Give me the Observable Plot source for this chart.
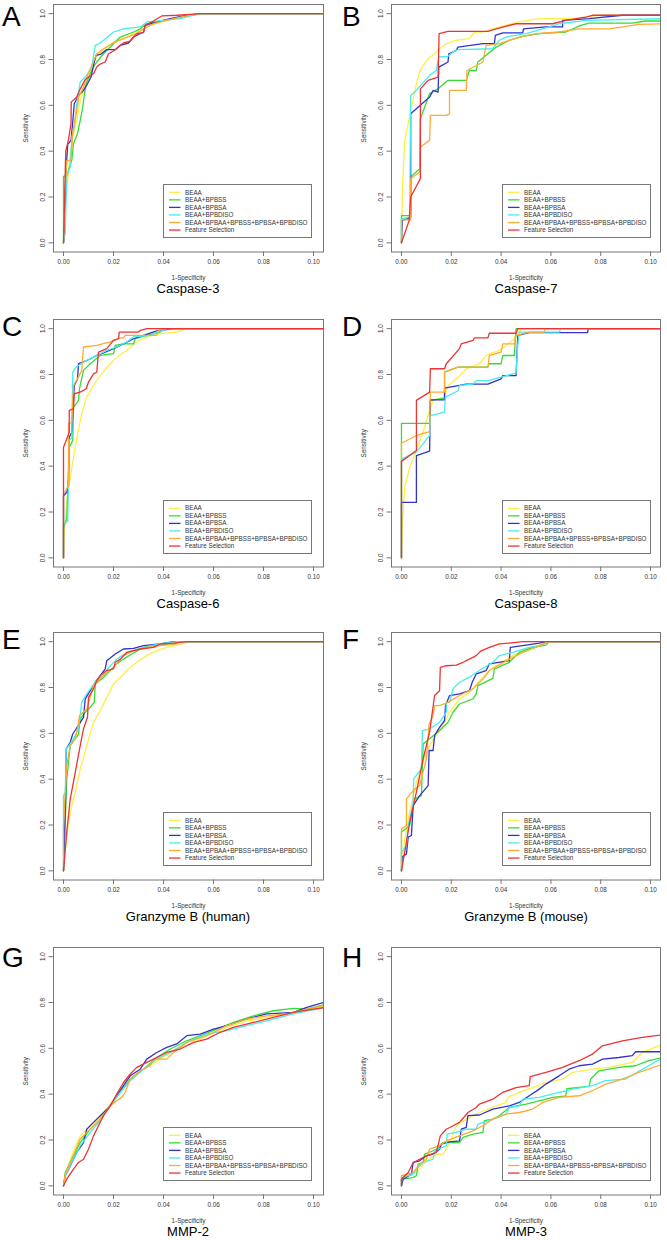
<!DOCTYPE html>
<html><head><meta charset="utf-8">
<script src="https://cdn.jsdelivr.net/npm/d3@7"></script>
<script src="https://cdn.jsdelivr.net/npm/@observablehq/plot@0.6"></script>
<style>
body{margin:0;background:#fff;}
#root{position:relative;width:667px;height:1240px;overflow:hidden;background:#fff;font-family:"Liberation Sans",Arial,sans-serif;}
.panel{position:absolute;}
.letter{position:absolute;font-size:28px;line-height:1;color:#000;}
.title{position:absolute;font-size:13px;line-height:1;color:#000;transform:translate(-50%,-50%);white-space:nowrap;}
.legend{position:absolute;border:1px solid #777;background:#fff;box-sizing:border-box;}
.legend svg{position:absolute;left:0;top:0;}
.legend .lb{position:absolute;left:21px;font-size:6.3px;line-height:1;color:#333;white-space:nowrap;transform:translateY(-50%);}
</style>
</head><body><div id="root"></div>
<script>
// ---------- series names, colours, panel titles, ticks ----------
const seriesNames = ["BEAA","BEAA+BPBSS","BEAA+BPBSA","BEAA+BPBDISO","BEAA+BPBAA+BPBSS+BPBSA+BPBDISO","Feature Selection"];
const seriesColors = ["#ffee44","#33dd33","#3333cc","#44eeee","#ffaa33","#ee3333"];
const panelLetters = ["A","B","C","D","E","F","G","H"];
const panelTitles = ["Caspase-3","Caspase-7","Caspase-6","Caspase-8","Granzyme B (human)","Granzyme B (mouse)","MMP-2","MMP-3"];
const xTicks = [0,0.02,0.04,0.06,0.08,0.10];
const yTicks = [0,0.2,0.4,0.6,0.8,1.0];

// ---------- A: Caspase-3 ----------
const A_BEAA = [[0,0],[0.0007,0.185],[0.0013,0.229],[0.0027,0.389],[0.004,0.476],[0.0053,0.534],[0.0067,0.622],[0.0083,0.68],[0.01,0.723],[0.012,0.789],[0.014,0.825],[0.0173,0.854],[0.0213,0.884],[0.0253,0.898],[0.0307,0.927],[0.0347,0.949],[0.04,0.968],[0.0467,0.985],[0.0547,1],[0.105,1]];
const A_BPBSS = [[0,0],[0,0.29],[0.0013,0.294],[0.002,0.316],[0.0033,0.36],[0.004,0.432],[0.0056,0.476],[0.0067,0.534],[0.0077,0.592],[0.0083,0.643],[0.0091,0.694],[0.0107,0.738],[0.012,0.767],[0.0133,0.789],[0.016,0.825],[0.02,0.869],[0.0227,0.898],[0.028,0.92],[0.0307,0.934],[0.0333,0.956],[0.0387,0.967],[0.044,0.978],[0.052,0.996],[0.0547,1],[0.105,1]];
const A_BPBSA = [[0,0],[0.0004,0.04],[0.0009,0.3],[0.0017,0.43],[0.003,0.447],[0.0037,0.527],[0.0043,0.607],[0.006,0.643],[0.008,0.665],[0.0096,0.694],[0.011,0.723],[0.012,0.774],[0.013,0.818],[0.0147,0.822],[0.0173,0.843],[0.0207,0.843],[0.0227,0.862],[0.026,0.872],[0.028,0.898],[0.032,0.92],[0.0327,0.949],[0.0373,0.964],[0.0427,0.978],[0.049,0.993],[0.0547,1],[0.105,1]];
const A_BPBDISO = [[0,0],[0.0007,0.05],[0.0009,0.127],[0.0013,0.3],[0.0027,0.33],[0.0033,0.461],[0.0043,0.505],[0.0053,0.607],[0.0067,0.702],[0.0093,0.731],[0.0113,0.767],[0.0127,0.862],[0.0147,0.872],[0.02,0.92],[0.024,0.934],[0.0307,0.942],[0.0333,0.964],[0.04,0.971],[0.0467,0.978],[0.0533,0.997],[0.056,1],[0.105,1]];
const A_ALL = [[0,0],[0.0004,0.185],[0.0013,0.36],[0.003,0.36],[0.0037,0.483],[0.005,0.556],[0.0061,0.636],[0.008,0.68],[0.0096,0.731],[0.0113,0.774],[0.0133,0.825],[0.016,0.847],[0.0193,0.869],[0.024,0.891],[0.0293,0.913],[0.032,0.934],[0.036,0.956],[0.0413,0.971],[0.048,0.988],[0.0547,1],[0.105,1]];
const A_FS = [[0,0],[0.0009,0.4],[0.002,0.45],[0.003,0.52],[0.0031,0.614],[0.0053,0.636],[0.0067,0.672],[0.0087,0.713],[0.012,0.738],[0.0133,0.767],[0.0147,0.78],[0.0167,0.789],[0.018,0.825],[0.02,0.837],[0.024,0.872],[0.0267,0.88],[0.0293,0.913],[0.032,0.917],[0.0327,0.949],[0.036,0.968],[0.0393,0.99],[0.0453,0.993],[0.049,0.996],[0.0547,1],[0.105,1]];

// ---------- B: Caspase-7 ----------
const B_BEAA = [[0,0],[0.0002,0.1],[0.0004,0.243],[0.0013,0.447],[0.0027,0.52],[0.004,0.592],[0.006,0.694],[0.0073,0.745],[0.0087,0.774],[0.0107,0.803],[0.0133,0.825],[0.0153,0.847],[0.018,0.869],[0.022,0.884],[0.0273,0.891],[0.0293,0.92],[0.0327,0.92],[0.0393,0.942],[0.0473,0.964],[0.0553,0.978],[0.0687,0.978],[0.0793,0.993],[0.105,0.993]];
const B_BPBSS = [[0,0],[0,0.119],[0.0037,0.119],[0.0037,0.287],[0.0073,0.323],[0.0076,0.541],[0.0113,0.651],[0.0147,0.672],[0.0187,0.709],[0.026,0.709],[0.0273,0.752],[0.03,0.752],[0.0307,0.789],[0.0347,0.825],[0.038,0.854],[0.0433,0.884],[0.0487,0.901],[0.0553,0.913],[0.066,0.92],[0.072,0.949],[0.0753,0.959],[0.0927,0.959],[0.098,0.968],[0.105,0.968]];
const B_BPBSA = [[0,0],[0.0003,0.098],[0.0037,0.11],[0.0037,0.563],[0.0113,0.636],[0.0127,0.665],[0.0147,0.658],[0.015,0.767],[0.0187,0.789],[0.019,0.825],[0.022,0.84],[0.0227,0.854],[0.0327,0.869],[0.0373,0.869],[0.0377,0.905],[0.0407,0.916],[0.0487,0.916],[0.049,0.934],[0.058,0.942],[0.0647,0.942],[0.0647,0.971],[0.0753,0.978],[0.0887,0.993],[0.105,0.993]];
const B_BPBDISO = [[0,0],[0,0.105],[0.0033,0.112],[0.0037,0.643],[0.006,0.665],[0.0113,0.731],[0.014,0.752],[0.015,0.811],[0.0187,0.814],[0.0207,0.833],[0.0227,0.843],[0.0367,0.847],[0.0393,0.884],[0.042,0.898],[0.05,0.913],[0.0593,0.942],[0.0633,0.956],[0.074,0.971],[0.105,0.978]];
const B_ALL = [[0,0],[0,0.1],[0.0037,0.1],[0.0037,0.28],[0.0073,0.309],[0.0076,0.418],[0.0113,0.447],[0.0116,0.556],[0.018,0.556],[0.0193,0.563],[0.0193,0.665],[0.026,0.665],[0.0263,0.752],[0.0327,0.789],[0.034,0.862],[0.0393,0.869],[0.0473,0.898],[0.054,0.913],[0.0633,0.92],[0.0713,0.934],[0.0833,0.934],[0.09,0.945],[0.0953,0.953],[0.105,0.956]];
const B_FS = [[0,0],[0.0031,0.0975],[0.0037,0.2],[0.0076,0.28],[0.0076,0.672],[0.0107,0.709],[0.0147,0.723],[0.0151,0.913],[0.0187,0.923],[0.0347,0.923],[0.038,0.934],[0.046,0.956],[0.0607,0.956],[0.066,0.971],[0.074,0.985],[0.0767,0.993],[0.105,0.993]];

// ---------- C: Caspase-6 ----------
const C_BEAA = [[0,0],[0.0003,0.104],[0.0013,0.249],[0.0027,0.351],[0.004,0.439],[0.0056,0.541],[0.0073,0.628],[0.0093,0.701],[0.012,0.752],[0.0147,0.796],[0.0187,0.847],[0.0213,0.876],[0.0253,0.905],[0.0293,0.942],[0.0333,0.964],[0.0387,0.978],[0.0453,0.985],[0.0493,1],[0.105,1]];
const C_BPBSS = [[0,0],[0,0.133],[0.0013,0.169],[0.0023,0.483],[0.0037,0.512],[0.004,0.657],[0.006,0.687],[0.0064,0.738],[0.008,0.818],[0.0107,0.847],[0.0147,0.883],[0.02,0.891],[0.0207,0.927],[0.024,0.934],[0.028,0.934],[0.0287,0.956],[0.0333,0.971],[0.0387,0.985],[0.04,1],[0.105,1]];
const C_BPBSA = [[0,0],[0,0.271],[0.0013,0.286],[0.002,0.315],[0.0023,0.526],[0.0033,0.548],[0.0043,0.752],[0.0056,0.781],[0.006,0.847],[0.0093,0.861],[0.0133,0.883],[0.016,0.894],[0.02,0.913],[0.024,0.934],[0.028,0.956],[0.032,0.971],[0.0373,0.99],[0.042,0.997],[0.044,1],[0.105,1]];
const C_BPBDISO = [[0,0],[0,0.147],[0.0017,0.162],[0.0023,0.512],[0.0033,0.526],[0.0037,0.81],[0.005,0.832],[0.008,0.854],[0.012,0.876],[0.0173,0.905],[0.0213,0.92],[0.0253,0.942],[0.028,0.964],[0.0347,0.971],[0.0373,0.985],[0.04,0.993],[0.0413,1],[0.105,1]];
const C_ALL = [[0,0],[0,0.28],[0.0007,0.29],[0.002,0.315],[0.002,0.585],[0.0033,0.592],[0.004,0.752],[0.0056,0.781],[0.0073,0.818],[0.008,0.92],[0.0133,0.927],[0.0187,0.942],[0.0227,0.96],[0.024,0.96],[0.0247,0.971],[0.0373,0.971],[0.038,0.993],[0.04,1],[0.105,1]];
const C_FS = [[0,0],[0,0.483],[0.0013,0.519],[0.0023,0.548],[0.0023,0.643],[0.004,0.65],[0.0043,0.716],[0.0067,0.723],[0.0091,0.738],[0.01,0.767],[0.012,0.803],[0.0133,0.81],[0.014,0.898],[0.0173,0.913],[0.02,0.949],[0.022,0.956],[0.0223,0.985],[0.03,0.985],[0.0307,0.993],[0.0333,1],[0.105,1]];

// ---------- D: Caspase-8 ----------
const D_BEAA = [[0,0],[0.0003,0.133],[0.0013,0.308],[0.0033,0.395],[0.006,0.468],[0.0093,0.57],[0.0113,0.643],[0.0127,0.687],[0.0173,0.701],[0.0187,0.752],[0.0227,0.787],[0.026,0.825],[0.0313,0.847],[0.034,0.883],[0.0393,0.905],[0.0447,0.949],[0.0467,0.985],[0.0487,1],[0.105,1]];
const D_BPBSS = [[0,0],[0,0.587],[0.0113,0.587],[0.0116,0.687],[0.0173,0.697],[0.0173,0.81],[0.0227,0.832],[0.0347,0.832],[0.0351,0.847],[0.04,0.847],[0.0407,0.883],[0.0453,0.883],[0.046,1],[0.105,1]];
const D_BPBSA = [[0,0],[0,0.242],[0.006,0.242],[0.006,0.446],[0.0113,0.466],[0.0116,0.689],[0.0173,0.689],[0.0173,0.741],[0.026,0.758],[0.0347,0.758],[0.04,0.781],[0.0407,0.795],[0.046,0.795],[0.0467,0.971],[0.0513,0.983],[0.0747,0.983],[0.075,1],[0.105,1]];
const D_BPBDISO = [[0,0],[0,0.431],[0.006,0.461],[0.0113,0.534],[0.0116,0.621],[0.0173,0.636],[0.0176,0.701],[0.0227,0.729],[0.0233,0.752],[0.0287,0.758],[0.03,0.773],[0.0347,0.773],[0.046,0.806],[0.0467,0.93],[0.0473,0.985],[0.0633,0.985],[0.064,1],[0.105,1]];
const D_ALL = [[0,0],[0,0.5],[0.006,0.534],[0.0113,0.551],[0.0116,0.723],[0.0173,0.723],[0.0173,0.81],[0.0227,0.832],[0.0347,0.832],[0.0353,0.883],[0.04,0.898],[0.0407,0.934],[0.0453,0.934],[0.046,0.971],[0.0513,0.985],[0.0573,0.985],[0.0577,1],[0.105,1]];
const D_FS = [[0,0],[0,0.421],[0.006,0.468],[0.006,0.687],[0.0113,0.723],[0.0116,0.825],[0.0173,0.825],[0.018,0.847],[0.0233,0.913],[0.024,0.934],[0.0287,0.949],[0.0293,0.96],[0.0347,0.96],[0.0353,0.98],[0.046,0.98],[0.0467,1],[0.105,1]];

// ---------- E: Granzyme B (human) ----------
const E_BEAA = [[0,0],[0.0013,0.154],[0.0027,0.256],[0.0047,0.343],[0.0067,0.445],[0.0093,0.547],[0.012,0.648],[0.0147,0.699],[0.0173,0.757],[0.02,0.815],[0.0227,0.844],[0.026,0.881],[0.0293,0.91],[0.0333,0.939],[0.0373,0.961],[0.0413,0.975],[0.0453,0.985],[0.0507,1],[0.105,1]];
const E_BPBSS = [[0,0],[0.0013,0.401],[0.0027,0.547],[0.0047,0.576],[0.006,0.597],[0.0067,0.663],[0.0087,0.692],[0.0107,0.714],[0.0123,0.735],[0.0127,0.815],[0.016,0.844],[0.0187,0.874],[0.0213,0.903],[0.024,0.924],[0.0273,0.946],[0.032,0.975],[0.0373,0.985],[0.044,0.99],[0.0467,1],[0.105,1]];
const E_BPBSA = [[0,0],[0.0008,0.3],[0.0011,0.532],[0.0027,0.561],[0.0037,0.597],[0.005,0.619],[0.0067,0.648],[0.008,0.67],[0.0087,0.75],[0.0107,0.786],[0.0127,0.823],[0.0147,0.852],[0.0167,0.881],[0.0173,0.917],[0.0207,0.946],[0.024,0.968],[0.028,0.971],[0.032,0.983],[0.0387,0.99],[0.044,1],[0.105,1]];
const E_BPBDISO = [[0,0],[0,0.328],[0.0007,0.343],[0.0011,0.532],[0.0027,0.554],[0.0047,0.59],[0.006,0.619],[0.0073,0.735],[0.0093,0.772],[0.0127,0.823],[0.016,0.859],[0.0187,0.895],[0.0213,0.924],[0.0253,0.953],[0.0307,0.971],[0.036,0.985],[0.0427,0.997],[0.0453,1],[0.105,1]];
const E_ALL = [[0,0],[0,0.198],[0.0013,0.459],[0.0027,0.547],[0.0047,0.576],[0.0056,0.619],[0.0064,0.677],[0.0093,0.706],[0.012,0.808],[0.016,0.852],[0.02,0.888],[0.024,0.939],[0.028,0.961],[0.0333,0.975],[0.0387,0.983],[0.0453,0.99],[0.046,1],[0.105,1]];
const E_FS = [[0,0],[0.0013,0.169],[0.0027,0.314],[0.0047,0.43],[0.0067,0.547],[0.008,0.619],[0.0096,0.67],[0.01,0.757],[0.012,0.794],[0.0133,0.83],[0.0147,0.852],[0.0173,0.874],[0.02,0.881],[0.0207,0.91],[0.0227,0.924],[0.0253,0.953],[0.0307,0.968],[0.036,0.975],[0.0387,0.99],[0.044,0.994],[0.0493,1],[0.105,1]];

// ---------- F: Granzyme B (mouse) ----------
const F_BEAA = [[0,0],[0.0013,0.14],[0.0033,0.256],[0.006,0.387],[0.0087,0.474],[0.0113,0.547],[0.014,0.59],[0.0167,0.634],[0.0193,0.692],[0.0233,0.75],[0.0273,0.779],[0.0313,0.83],[0.0353,0.874],[0.0393,0.903],[0.0447,0.939],[0.05,0.968],[0.0553,0.985],[0.0593,1],[0.105,1]];
const F_BPBSS = [[0,0],[0,0.169],[0.0033,0.198],[0.0053,0.314],[0.008,0.328],[0.0087,0.554],[0.0113,0.576],[0.0153,0.612],[0.0187,0.648],[0.0207,0.692],[0.0233,0.728],[0.0287,0.75],[0.03,0.772],[0.0307,0.808],[0.0367,0.84],[0.0373,0.881],[0.0433,0.91],[0.0473,0.953],[0.0527,0.975],[0.058,0.985],[0.0593,1],[0.105,1]];
const F_BPBSA = [[0,0],[0.0003,0.06],[0.002,0.074],[0.0027,0.147],[0.004,0.154],[0.0047,0.285],[0.0073,0.328],[0.0107,0.372],[0.0111,0.525],[0.0127,0.525],[0.0133,0.59],[0.0153,0.626],[0.0173,0.656],[0.0177,0.721],[0.0193,0.765],[0.0233,0.772],[0.0273,0.786],[0.0284,0.823],[0.03,0.859],[0.034,0.874],[0.0353,0.903],[0.0433,0.917],[0.0437,0.975],[0.05,0.985],[0.0553,0.994],[0.058,1],[0.105,1]];
const F_BPBDISO = [[0,0],[0,0.081],[0.002,0.11],[0.0027,0.198],[0.0047,0.299],[0.0049,0.401],[0.008,0.445],[0.0084,0.612],[0.0113,0.619],[0.0153,0.648],[0.018,0.692],[0.018,0.735],[0.0193,0.735],[0.0207,0.794],[0.0233,0.823],[0.0273,0.845],[0.0313,0.874],[0.0367,0.91],[0.0393,0.939],[0.0447,0.953],[0.0513,0.975],[0.0553,0.983],[0.0593,1],[0.105,1]];
const F_ALL = [[0,0],[0,0.183],[0.002,0.198],[0.002,0.314],[0.0047,0.35],[0.0073,0.372],[0.01,0.488],[0.0111,0.641],[0.0127,0.677],[0.0133,0.721],[0.0153,0.721],[0.0187,0.735],[0.0233,0.765],[0.0287,0.794],[0.0327,0.837],[0.0353,0.874],[0.0393,0.898],[0.0433,0.924],[0.0487,0.953],[0.054,0.975],[0.0593,1],[0.105,1]];
const F_FS = [[0,0],[0.0013,0.081],[0.0033,0.212],[0.006,0.343],[0.0087,0.488],[0.0113,0.605],[0.0133,0.765],[0.0153,0.786],[0.0156,0.888],[0.018,0.895],[0.022,0.898],[0.0247,0.91],[0.0273,0.924],[0.03,0.939],[0.032,0.96],[0.0353,0.975],[0.0393,0.99],[0.0433,0.994],[0.0487,1],[0.105,1]];

// ---------- G: MMP-2 ----------
const G_BEAA = [[0,0],[0.0007,0.05],[0.0033,0.131],[0.0067,0.218],[0.0107,0.262],[0.0147,0.298],[0.0187,0.357],[0.0227,0.415],[0.028,0.48],[0.0333,0.517],[0.0387,0.553],[0.044,0.589],[0.0507,0.619],[0.0573,0.655],[0.0653,0.691],[0.0733,0.72],[0.0813,0.735],[0.092,0.757],[0.105,0.786]];
const G_BPBSS = [[0,0],[0.0007,0.058],[0.0033,0.116],[0.0067,0.189],[0.0107,0.247],[0.0147,0.291],[0.0187,0.349],[0.0227,0.408],[0.0267,0.466],[0.032,0.509],[0.0373,0.56],[0.0427,0.597],[0.0493,0.633],[0.0547,0.655],[0.0613,0.684],[0.068,0.713],[0.076,0.742],[0.084,0.764],[0.092,0.774],[0.0973,0.771],[0.105,0.793]];
const G_BPBSA = [[0,0],[0.0007,0.044],[0.0027,0.087],[0.0053,0.146],[0.008,0.189],[0.0093,0.247],[0.012,0.277],[0.0147,0.306],[0.0187,0.349],[0.0213,0.393],[0.024,0.437],[0.0267,0.48],[0.0307,0.509],[0.0333,0.553],[0.0373,0.582],[0.0413,0.604],[0.0453,0.619],[0.0493,0.655],[0.0547,0.662],[0.06,0.684],[0.0653,0.699],[0.0733,0.728],[0.0813,0.75],[0.092,0.757],[0.0973,0.779],[0.105,0.803]];
const G_BPBDISO = [[0,0],[0.0007,0.044],[0.0033,0.102],[0.0067,0.175],[0.0107,0.233],[0.0147,0.284],[0.0187,0.349],[0.0227,0.408],[0.0267,0.459],[0.032,0.509],[0.0373,0.553],[0.0427,0.582],[0.0493,0.626],[0.0573,0.662],[0.0653,0.677],[0.0733,0.699],[0.0813,0.72],[0.092,0.75],[0.105,0.779]];
const G_ALL = [[0,0],[0.0007,0.05],[0.0033,0.116],[0.0067,0.204],[0.0107,0.247],[0.0147,0.291],[0.0187,0.349],[0.0213,0.371],[0.0233,0.386],[0.0247,0.408],[0.0267,0.466],[0.0307,0.502],[0.0347,0.524],[0.036,0.553],[0.0413,0.553],[0.044,0.582],[0.0493,0.626],[0.0573,0.655],[0.0653,0.699],[0.0733,0.728],[0.0813,0.742],[0.0893,0.75],[0.105,0.789]];
const G_FS = [[0,0],[0.0013,0.029],[0.004,0.073],[0.006,0.102],[0.008,0.116],[0.01,0.16],[0.012,0.218],[0.014,0.262],[0.016,0.306],[0.0187,0.349],[0.0213,0.4],[0.024,0.451],[0.0267,0.488],[0.0293,0.517],[0.0333,0.539],[0.0373,0.56],[0.0413,0.582],[0.0467,0.597],[0.052,0.626],[0.0573,0.64],[0.0627,0.67],[0.068,0.691],[0.076,0.713],[0.084,0.735],[0.092,0.757],[0.1,0.771],[0.105,0.779]];

// ---------- H: MMP-3 ----------
const H_BEAA = [[0,0],[0.0007,0.036],[0.0047,0.051],[0.0073,0.073],[0.01,0.109],[0.014,0.138],[0.0167,0.138],[0.0187,0.175],[0.02,0.204],[0.022,0.262],[0.026,0.291],[0.0313,0.32],[0.038,0.349],[0.042,0.364],[0.0427,0.386],[0.0473,0.408],[0.0527,0.429],[0.058,0.451],[0.0647,0.466],[0.0687,0.495],[0.0767,0.509],[0.0833,0.517],[0.0927,0.539],[0.0967,0.582],[0.105,0.619]];
const H_BPBSS = [[0,0],[0,0.029],[0.0047,0.036],[0.006,0.044],[0.0067,0.095],[0.0087,0.102],[0.0093,0.138],[0.0127,0.153],[0.0153,0.167],[0.0167,0.189],[0.0233,0.189],[0.0247,0.211],[0.0287,0.226],[0.0327,0.233],[0.0333,0.284],[0.0367,0.291],[0.0393,0.306],[0.0433,0.342],[0.05,0.357],[0.0553,0.371],[0.0607,0.386],[0.066,0.393],[0.0664,0.424],[0.0713,0.429],[0.0753,0.434],[0.076,0.466],[0.0793,0.502],[0.0873,0.517],[0.094,0.524],[0.0993,0.546],[0.105,0.56]];
const H_BPBSA = [[0,0],[0.0007,0.029],[0.004,0.051],[0.0047,0.102],[0.0073,0.109],[0.01,0.131],[0.0127,0.138],[0.0153,0.16],[0.016,0.182],[0.0193,0.192],[0.0233,0.196],[0.024,0.247],[0.026,0.255],[0.0267,0.306],[0.0313,0.309],[0.0367,0.335],[0.0433,0.349],[0.0473,0.364],[0.0513,0.393],[0.0553,0.422],[0.058,0.444],[0.0633,0.48],[0.0673,0.509],[0.0713,0.524],[0.0767,0.531],[0.0807,0.553],[0.0873,0.56],[0.0927,0.568],[0.094,0.585],[0.105,0.585]];
const H_BPBDISO = [[0,0],[0,0.036],[0.0047,0.051],[0.006,0.073],[0.0087,0.102],[0.0127,0.116],[0.0133,0.153],[0.018,0.175],[0.0183,0.226],[0.022,0.233],[0.026,0.247],[0.03,0.247],[0.0307,0.269],[0.0367,0.291],[0.042,0.313],[0.0433,0.342],[0.0473,0.349],[0.0487,0.378],[0.0553,0.386],[0.0633,0.408],[0.0687,0.422],[0.0767,0.437],[0.082,0.459],[0.09,0.466],[0.0967,0.509],[0.105,0.56]];
const H_ALL = [[0,0],[0,0.044],[0.0047,0.058],[0.0073,0.095],[0.01,0.116],[0.0113,0.16],[0.0153,0.175],[0.018,0.196],[0.0233,0.218],[0.0287,0.24],[0.0327,0.262],[0.0367,0.291],[0.042,0.313],[0.0473,0.32],[0.0527,0.335],[0.0567,0.364],[0.0633,0.386],[0.0713,0.393],[0.0767,0.415],[0.082,0.444],[0.0887,0.466],[0.0953,0.495],[0.105,0.531]];
const H_FS = [[0,0],[0,0.029],[0.0027,0.058],[0.0047,0.102],[0.01,0.131],[0.014,0.146],[0.0156,0.218],[0.018,0.247],[0.0207,0.262],[0.0233,0.277],[0.0267,0.32],[0.03,0.342],[0.0313,0.357],[0.0367,0.378],[0.0407,0.408],[0.046,0.429],[0.0513,0.437],[0.0517,0.477],[0.058,0.495],[0.0647,0.517],[0.0713,0.546],[0.0767,0.575],[0.0807,0.611],[0.0887,0.633],[0.0967,0.648],[0.105,0.659]];

const panelSeries = [
  [A_BEAA,A_BPBSS,A_BPBSA,A_BPBDISO,A_ALL,A_FS],
  [B_BEAA,B_BPBSS,B_BPBSA,B_BPBDISO,B_ALL,B_FS],
  [C_BEAA,C_BPBSS,C_BPBSA,C_BPBDISO,C_ALL,C_FS],
  [D_BEAA,D_BPBSS,D_BPBSA,D_BPBDISO,D_ALL,D_FS],
  [E_BEAA,E_BPBSS,E_BPBSA,E_BPBDISO,E_ALL,E_FS],
  [F_BEAA,F_BPBSS,F_BPBSA,F_BPBDISO,F_ALL,F_FS],
  [G_BEAA,G_BPBSS,G_BPBSA,G_BPBDISO,G_ALL,G_FS],
  [H_BEAA,H_BPBSS,H_BPBSA,H_BPBDISO,H_ALL,H_FS]
];

// ---------- layout ----------
const root = document.getElementById("root");
const frameTop = [4, 319, 632, 947];
const FH = 247.5;
const cols = [
  {left: 0, width: 333, mL: 53, mR: 10, letterX: 2, titleX: 188, legendX: 163},
  {left: 333, width: 334, mL: 58, mR: 7, letterX: 342, titleX: 526, legendX: 502}
];
const letterCapTop = [7, 316.5, 630, 948];
const legendTop = [184.3, 500, 812.3, 1127.3];
const MT = 4, MB = 34;
const SVGNS = "http://www.w3.org/2000/svg";

panelSeries.forEach((series, i) => {
  const c = cols[i % 2], r = Math.floor(i / 2);
  const frameBottom = frameTop[r] + FH;
  const data = series.flatMap((pts, s) => pts.map(([x, y]) => ({x, y, s: seriesNames[s]})));
  const svg = Plot.plot({
    width: c.width,
    height: MT + FH + MB,
    marginLeft: c.mL, marginRight: c.mR, marginTop: MT, marginBottom: MB,
    style: {fontFamily: "'Liberation Sans', Arial, sans-serif", fontSize: "6.3px", color: "#333", background: "transparent", overflow: "visible"},
    x: {domain: [-0.004, 0.104]},
    y: {domain: [-0.04, 1.04]},
    color: {domain: seriesNames, range: seriesColors},
    marks: [
      Plot.axisX({ticks: xTicks, tickFormat: d3.format(".2f"), tickSize: 4.5, tickPadding: 3.5, stroke: "#777", color: "#333",
                  label: "1-Specificity", labelAnchor: "center", labelArrow: "none", labelOffset: 28}),
      Plot.axisY({ticks: yTicks, tickFormat: d3.format(".1f"), tickSize: 4.5, tickPadding: 4, tickRotate: -90, stroke: "#777", color: "#333",
                  label: "Sensitivity", labelAnchor: "center", labelArrow: "none", labelOffset: 30}),
      Plot.line(data, {x: "x", y: "y", z: "s", stroke: "s", strokeWidth: 1.3, clip: true}),
      Plot.frame({stroke: "#777", strokeWidth: 1})
    ]
  });
  const wrap = document.createElement("div");
  wrap.className = "panel";
  wrap.style.left = c.left + "px";
  wrap.style.top = (frameTop[r] - MT) + "px";
  wrap.appendChild(svg);
  root.appendChild(wrap);

  const L = document.createElement("div");
  L.className = "letter";
  L.textContent = panelLetters[i];
  L.style.left = c.letterX + "px";
  L.style.top = (letterCapTop[r] - 3.7) + "px";
  root.appendChild(L);

  const T = document.createElement("div");
  T.className = "title";
  T.textContent = panelTitles[i];
  T.style.left = c.titleX + "px";
  T.style.top = (frameBottom + 36.8) + "px";
  root.appendChild(T);

  const lg = document.createElement("div");
  lg.className = "legend";
  lg.style.left = c.legendX + "px";
  lg.style.top = legendTop[r] + "px";
  lg.style.width = "149px";
  lg.style.height = "54px";
  const ls = document.createElementNS(SVGNS, "svg");
  ls.setAttribute("width", 147);
  ls.setAttribute("height", 52);
  seriesNames.forEach((name, s) => {
    const yy = 7.3 + s * 7.55;
    const ln = document.createElementNS(SVGNS, "line");
    ln.setAttribute("x1", 5); ln.setAttribute("x2", 16.5);
    ln.setAttribute("y1", yy); ln.setAttribute("y2", yy);
    ln.setAttribute("stroke", seriesColors[s]);
    ln.setAttribute("stroke-width", 1.3);
    ls.appendChild(ln);
    const lb = document.createElement("div");
    lb.className = "lb";
    lb.style.top = yy + "px";
    lb.textContent = name;
    lg.appendChild(lb);
  });
  lg.insertBefore(ls, lg.firstChild);
  root.appendChild(lg);
});
</script>
</body></html>
